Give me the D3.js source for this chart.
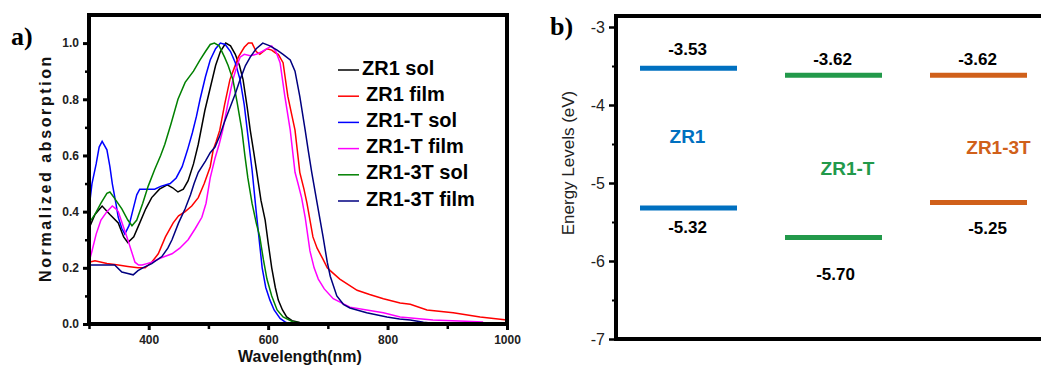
<!DOCTYPE html>
<html>
<head>
<meta charset="utf-8">
<script src="https://cdn.jsdelivr.net/npm/d3@7"></script>
<style>
  body { margin: 0; background: #fff; }
  #wrap { position: relative; width: 1041px; height: 367px; }
  svg { position: absolute; left: 0; top: 0; display: block; font-family: Arial, "Liberation Sans", sans-serif; }
  .edge { position: absolute; background: #000; }
</style>
</head>
<body>
<div id="wrap">
<svg id="chart" width="1041" height="367"></svg>
</div>
<script>
// panel a: absorption spectra, [wavelength nm, normalized absorption]
const zr1Sol = [[300,0.34],[310,0.39],[322,0.42],[335,0.39],[349,0.36],[358,0.31],[365,0.29],[375,0.31],[385,0.36],[395,0.41],[405,0.45],[418,0.48],[431,0.495],[440,0.485],[449,0.47],[458,0.48],[466,0.51],[475,0.57],[483,0.64],[494,0.76],[503,0.84],[512,0.92],[520,0.97],[529,1.0],[537,0.99],[545,0.96],[552,0.92],[558,0.87],[565,0.77],[570,0.69],[576,0.61],[581,0.54],[588,0.44],[595,0.37],[600,0.29],[606,0.20],[612,0.13],[617,0.085],[624,0.05],[631,0.025],[640,0.012],[653,0.005],[680,0.002],[1000,0.0]];
const zr1Film = [[300,0.22],[310,0.225],[330,0.215],[349,0.21],[365,0.205],[382,0.20],[394,0.20],[405,0.22],[416,0.25],[428,0.31],[441,0.36],[450,0.385],[461,0.40],[472,0.42],[483,0.45],[493,0.50],[503,0.56],[508,0.62],[513,0.65],[519,0.69],[527,0.78],[536,0.87],[543,0.91],[550,0.95],[560,0.985],[567,1.0],[573,1.0],[580,0.97],[586,0.96],[592,0.97],[598,0.98],[606,0.975],[612,0.965],[617,0.96],[625,0.93],[633,0.81],[640,0.74],[645,0.69],[653,0.54],[660,0.48],[665,0.43],[675,0.31],[682,0.27],[692,0.23],[699,0.20],[704,0.19],[720,0.16],[749,0.12],[770,0.105],[793,0.09],[821,0.075],[838,0.07],[866,0.05],[910,0.04],[955,0.025],[1000,0.014]];
const zr1tSol = [[300,0.41],[305,0.50],[312,0.57],[317,0.63],[322,0.65],[330,0.62],[335,0.56],[339,0.50],[345,0.43],[349,0.38],[355,0.34],[360,0.32],[367,0.35],[374,0.41],[380,0.46],[385,0.48],[395,0.48],[410,0.48],[420,0.49],[436,0.50],[446,0.52],[456,0.56],[465,0.62],[473,0.68],[480,0.74],[486,0.80],[495,0.88],[503,0.94],[512,0.98],[520,1.0],[528,0.995],[537,0.97],[545,0.93],[553,0.87],[560,0.78],[565,0.69],[573,0.55],[580,0.40],[586,0.28],[590,0.20],[596,0.13],[603,0.085],[610,0.05],[620,0.02],[630,0.005],[640,0.0],[1000,0.0]];
const zr1tFilm = [[300,0.22],[305,0.26],[312,0.32],[320,0.37],[330,0.40],[339,0.42],[345,0.41],[349,0.40],[357,0.35],[365,0.30],[371,0.26],[377,0.22],[383,0.21],[389,0.21],[397,0.215],[405,0.22],[420,0.235],[439,0.25],[452,0.27],[466,0.30],[478,0.34],[489,0.38],[496,0.43],[503,0.52],[511,0.59],[518,0.64],[524,0.69],[533,0.79],[541,0.87],[548,0.92],[553,0.95],[560,0.96],[570,0.955],[580,0.96],[590,0.97],[598,0.98],[606,0.99],[613,0.97],[620,0.93],[628,0.81],[637,0.69],[645,0.54],[650,0.50],[656,0.45],[662,0.38],[670,0.26],[677,0.20],[684,0.16],[694,0.125],[709,0.09],[737,0.06],[765,0.05],[793,0.04],[821,0.025],[876,0.014],[930,0.01],[960,0.007]];
const zr13tSol = [[300,0.36],[310,0.39],[320,0.43],[330,0.465],[335,0.47],[342,0.45],[355,0.41],[365,0.37],[372,0.35],[380,0.37],[390,0.43],[399,0.49],[410,0.55],[420,0.60],[427,0.64],[437,0.71],[449,0.80],[461,0.86],[475,0.90],[486,0.94],[495,0.97],[503,0.995],[510,1.0],[518,0.99],[527,0.95],[533,0.92],[541,0.87],[548,0.79],[556,0.69],[561,0.60],[566,0.52],[573,0.43],[580,0.36],[586,0.31],[592,0.23],[598,0.16],[606,0.10],[615,0.05],[625,0.025],[642,0.007],[660,0.003],[1000,0.002]];
const zr13tFilm = [[300,0.21],[320,0.21],[343,0.21],[355,0.185],[365,0.18],[374,0.175],[382,0.19],[390,0.20],[405,0.215],[422,0.24],[432,0.27],[439,0.30],[450,0.36],[461,0.41],[470,0.46],[476,0.50],[483,0.54],[495,0.58],[503,0.61],[511,0.63],[519,0.67],[527,0.72],[536,0.77],[545,0.82],[553,0.87],[562,0.92],[570,0.95],[580,0.98],[591,1.0],[603,0.99],[615,0.975],[625,0.96],[637,0.94],[645,0.90],[653,0.81],[662,0.69],[667,0.62],[673,0.54],[682,0.43],[692,0.31],[699,0.22],[704,0.17],[715,0.10],[726,0.07],[737,0.057],[765,0.04],[799,0.025],[820,0.018],[838,0.014],[860,0.006],[880,0.002],[1000,0.0]];

const seriesNames = ["ZR1 sol", "ZR1 film", "ZR1-T sol", "ZR1-T film", "ZR1-3T sol", "ZR1-3T film"];
const seriesData = [zr1Sol, zr1Film, zr1tSol, zr1tFilm, zr13tSol, zr13tFilm];
const seriesColors = ["#000000", "#ff0000", "#0000ff", "#ff00ff", "#008000", "#000080"];
const xTicksA = [400, 600, 800, 1000];
const xMinorA = [300, 500, 700, 900];
const yTicksA = [0, 0.2, 0.4, 0.6, 0.8, 1.0];
const yMinorA = [0.1, 0.3, 0.5, 0.7, 0.9];

// panel b: energy levels (eV)
const molecules = ["ZR1", "ZR1-T", "ZR1-3T"];
const lumo = [-3.53, -3.62, -3.62];
const homo = [-5.32, -5.70, -5.25];
const levelColors = ["#0070c0", "#22994a", "#d0601a"];
const yTicksB = [-7, -6, -5, -4, -3];
const yMinorB = [-6.5, -5.5, -4.5, -3.5];

const svg = d3.select("#chart");
const wrap = d3.select("#wrap");

// frame edges as html blocks, placed from the scales
function edge(x0, y0, x1, y1, t) {
  wrap.append("div").attr("class", "edge")
    .style("left", (Math.min(x0, x1) - t / 2) + "px")
    .style("top", (Math.min(y0, y1) - t / 2) + "px")
    .style("width", (Math.abs(x1 - x0) + t) + "px")
    .style("height", (Math.abs(y1 - y0) + t) + "px");
}

// ---------- panel a ----------
const xA = d3.scaleLinear().domain([300, 1000]).range([89, 507]);
const yA = d3.scaleLinear().domain([0, 1.1]).range([324, 15]);

const gA = svg.append("g");

const spectrumLine = d3.line().x(d => xA(d[0])).y(d => yA(d[1]));
gA.selectAll(".spec")
  .data(seriesData)
  .enter().append("path")
  .attr("class", "spec")
  .attr("d", spectrumLine)
  .attr("fill", "none")
  .attr("stroke", (d, i) => seriesColors[i])
  .attr("stroke-width", 1.5);

// tick marks
gA.append("g")
  .attr("transform", "translate(0,324)")
  .call(d3.axisBottom(xA).tickValues(xMinorA).tickSize(5).tickFormat(""))
  .call(g => g.select(".domain").remove())
  .call(g => g.selectAll("line").attr("stroke", "#000").attr("stroke-width", 2.5));
gA.append("g")
  .attr("transform", "translate(89,0)")
  .call(d3.axisLeft(yA).tickValues(yMinorA).tickSize(4).tickFormat(""))
  .call(g => g.select(".domain").remove())
  .call(g => g.selectAll("line").attr("stroke", "#000").attr("stroke-width", 2.5));

gA.append("g")
  .attr("transform", "translate(0,324)")
  .call(d3.axisBottom(xA).tickValues(xTicksA).tickSize(6).tickPadding(5).tickFormat(d3.format("d")))
  .call(g => g.select(".domain").remove())
  .call(g => g.selectAll("line").attr("stroke", "#000").attr("stroke-width", 3))
  .call(g => g.selectAll("text").attr("font-size", 12).attr("font-weight", "bold").attr("fill", "#222"));

gA.append("g")
  .attr("transform", "translate(89,0)")
  .call(d3.axisLeft(yA).tickValues(yTicksA).tickSize(6).tickPadding(4).tickFormat(d3.format(".1f")))
  .call(g => g.select(".domain").remove())
  .call(g => g.selectAll("line").attr("stroke", "#000").attr("stroke-width", 3))
  .call(g => g.selectAll("text").attr("font-size", 12).attr("font-weight", "bold").attr("fill", "#222"));

// box around panel a
gA.append("rect")
  .attr("x", xA(300)).attr("y", yA(1.1))
  .attr("width", xA(1000) - xA(300)).attr("height", yA(0) - yA(1.1))
  .attr("fill", "none").attr("stroke", "#000").attr("stroke-width", 3.5);
edge(xA(300), yA(1.1), xA(1000), yA(1.1), 3.5);
edge(xA(300), yA(0), xA(1000), yA(0), 3.5);
edge(xA(300), yA(1.1), xA(300), yA(0), 3.5);
edge(xA(1000), yA(1.1), xA(1000), yA(0), 3.5);

// legend
const leg = gA.append("g").selectAll("g")
  .data(seriesNames)
  .enter().append("g")
  .attr("transform", (d, i) => `translate(338,${70 + i * 26.2})`);
leg.append("line")
  .attr("x1", 0).attr("x2", 21)
  .attr("stroke", (d, i) => seriesColors[i])
  .attr("stroke-width", 1.5);
leg.append("text")
  .attr("x", (d, i) => i === 0 ? 24 : 28)
  .attr("y", 4.5)
  .attr("font-size", 20).attr("font-weight", "bold")
  .text(d => d);

gA.append("text")
  .attr("x", 300).attr("y", 362)
  .attr("text-anchor", "middle")
  .attr("font-size", 16).attr("font-weight", "bold")
  .attr("fill", "#111")
  .text("Wavelength(nm)");

gA.append("text")
  .attr("transform", "translate(51,168) rotate(-90)")
  .attr("text-anchor", "middle")
  .attr("font-size", 16).attr("font-weight", "bold")
  .attr("letter-spacing", 2.6)
  .attr("fill", "#111")
  .text("Normalized absorption");

gA.append("text")
  .attr("x", 11).attr("y", 45)
  .attr("font-family", "'Liberation Serif', 'Times New Roman', serif")
  .attr("font-size", 26).attr("font-weight", "bold")
  .text("a)");

// ---------- panel b ----------
const xB = d3.scalePoint().domain(molecules).range([616, 1051]).padding(0.5);
const yB = d3.scaleLinear().domain([-7, -3]).range([339, 27]);
const halfBar = 48.5;

const gB = svg.append("g");

// label offsets (px) from the level line: lumo above, homo below
const lumoDy = [-13, -10, -10];
const homoDy = [25, 42, 31];
const homoDx = [-1, 2, 9];
const nameY = [143, 175, 154];
const nameDx = [-1, 14, 20];

gB.append("g")
  .attr("transform", "translate(616,0)")
  .call(d3.axisLeft(yB).tickValues(yMinorB).tickSize(4).tickFormat(""))
  .call(g => g.select(".domain").remove())
  .call(g => g.selectAll("line").attr("stroke", "#000").attr("stroke-width", 2));

gB.append("g")
  .attr("transform", "translate(616,0)")
  .call(d3.axisLeft(yB).tickValues(yTicksB).tickSize(7).tickPadding(4).tickFormat(d3.format("d")))
  .call(g => g.select(".domain").remove())
  .call(g => g.selectAll("line").attr("stroke", "#000").attr("stroke-width", 2.5))
  .call(g => g.selectAll("text").attr("font-size", 16).attr("fill", "#222").text(d => "-" + Math.abs(d)));

// frame: left, top, bottom
gB.append("path")
  .attr("d", `M1041,${yB(-2.86)}H616V${yB(-7)}H1041`)
  .attr("fill", "none").attr("stroke", "#000").attr("stroke-width", 3.5);
edge(616, yB(-2.86), 1043, yB(-2.86), 3.5);
edge(616, yB(-7), 1043, yB(-7), 3.5);
edge(616, yB(-2.86), 616, yB(-7), 3.5);

gB.selectAll(".lumo")
  .data(molecules)
  .enter().append("line")
  .attr("x1", d => xB(d) - halfBar).attr("x2", d => xB(d) + halfBar)
  .attr("y1", (d, i) => yB(lumo[i])).attr("y2", (d, i) => yB(lumo[i]))
  .attr("stroke", (d, i) => levelColors[i]).attr("stroke-width", 5);

gB.selectAll(".homo")
  .data(molecules)
  .enter().append("line")
  .attr("x1", d => xB(d) - halfBar).attr("x2", d => xB(d) + halfBar)
  .attr("y1", (d, i) => yB(homo[i])).attr("y2", (d, i) => yB(homo[i]))
  .attr("stroke", (d, i) => levelColors[i]).attr("stroke-width", 5);

gB.selectAll(".lumoText")
  .data(molecules)
  .enter().append("text")
  .attr("x", d => xB(d) - 1)
  .attr("y", (d, i) => yB(lumo[i]) + lumoDy[i])
  .attr("text-anchor", "middle")
  .attr("font-size", 17).attr("font-weight", "bold")
  .text((d, i) => lumo[i].toFixed(2));

gB.selectAll(".homoText")
  .data(molecules)
  .enter().append("text")
  .attr("x", (d, i) => xB(d) + homoDx[i])
  .attr("y", (d, i) => yB(homo[i]) + homoDy[i])
  .attr("text-anchor", "middle")
  .attr("font-size", 17).attr("font-weight", "bold")
  .text((d, i) => homo[i].toFixed(2));

gB.selectAll(".nameText")
  .data(molecules)
  .enter().append("text")
  .attr("x", (d, i) => xB(d) + nameDx[i])
  .attr("y", (d, i) => nameY[i])
  .attr("text-anchor", "middle")
  .attr("font-size", 19).attr("font-weight", "bold")
  .attr("fill", (d, i) => levelColors[i])
  .text(d => d);

gB.append("text")
  .attr("transform", "translate(574,163) rotate(-90)")
  .attr("text-anchor", "middle")
  .attr("font-size", 17)
  .attr("fill", "#222")
  .text("Energy Levels (eV)");

gB.append("text")
  .attr("x", 550).attr("y", 35)
  .attr("font-family", "'Liberation Serif', 'Times New Roman', serif")
  .attr("font-size", 26).attr("font-weight", "bold")
  .text("b)");
</script>
</body>
</html>
